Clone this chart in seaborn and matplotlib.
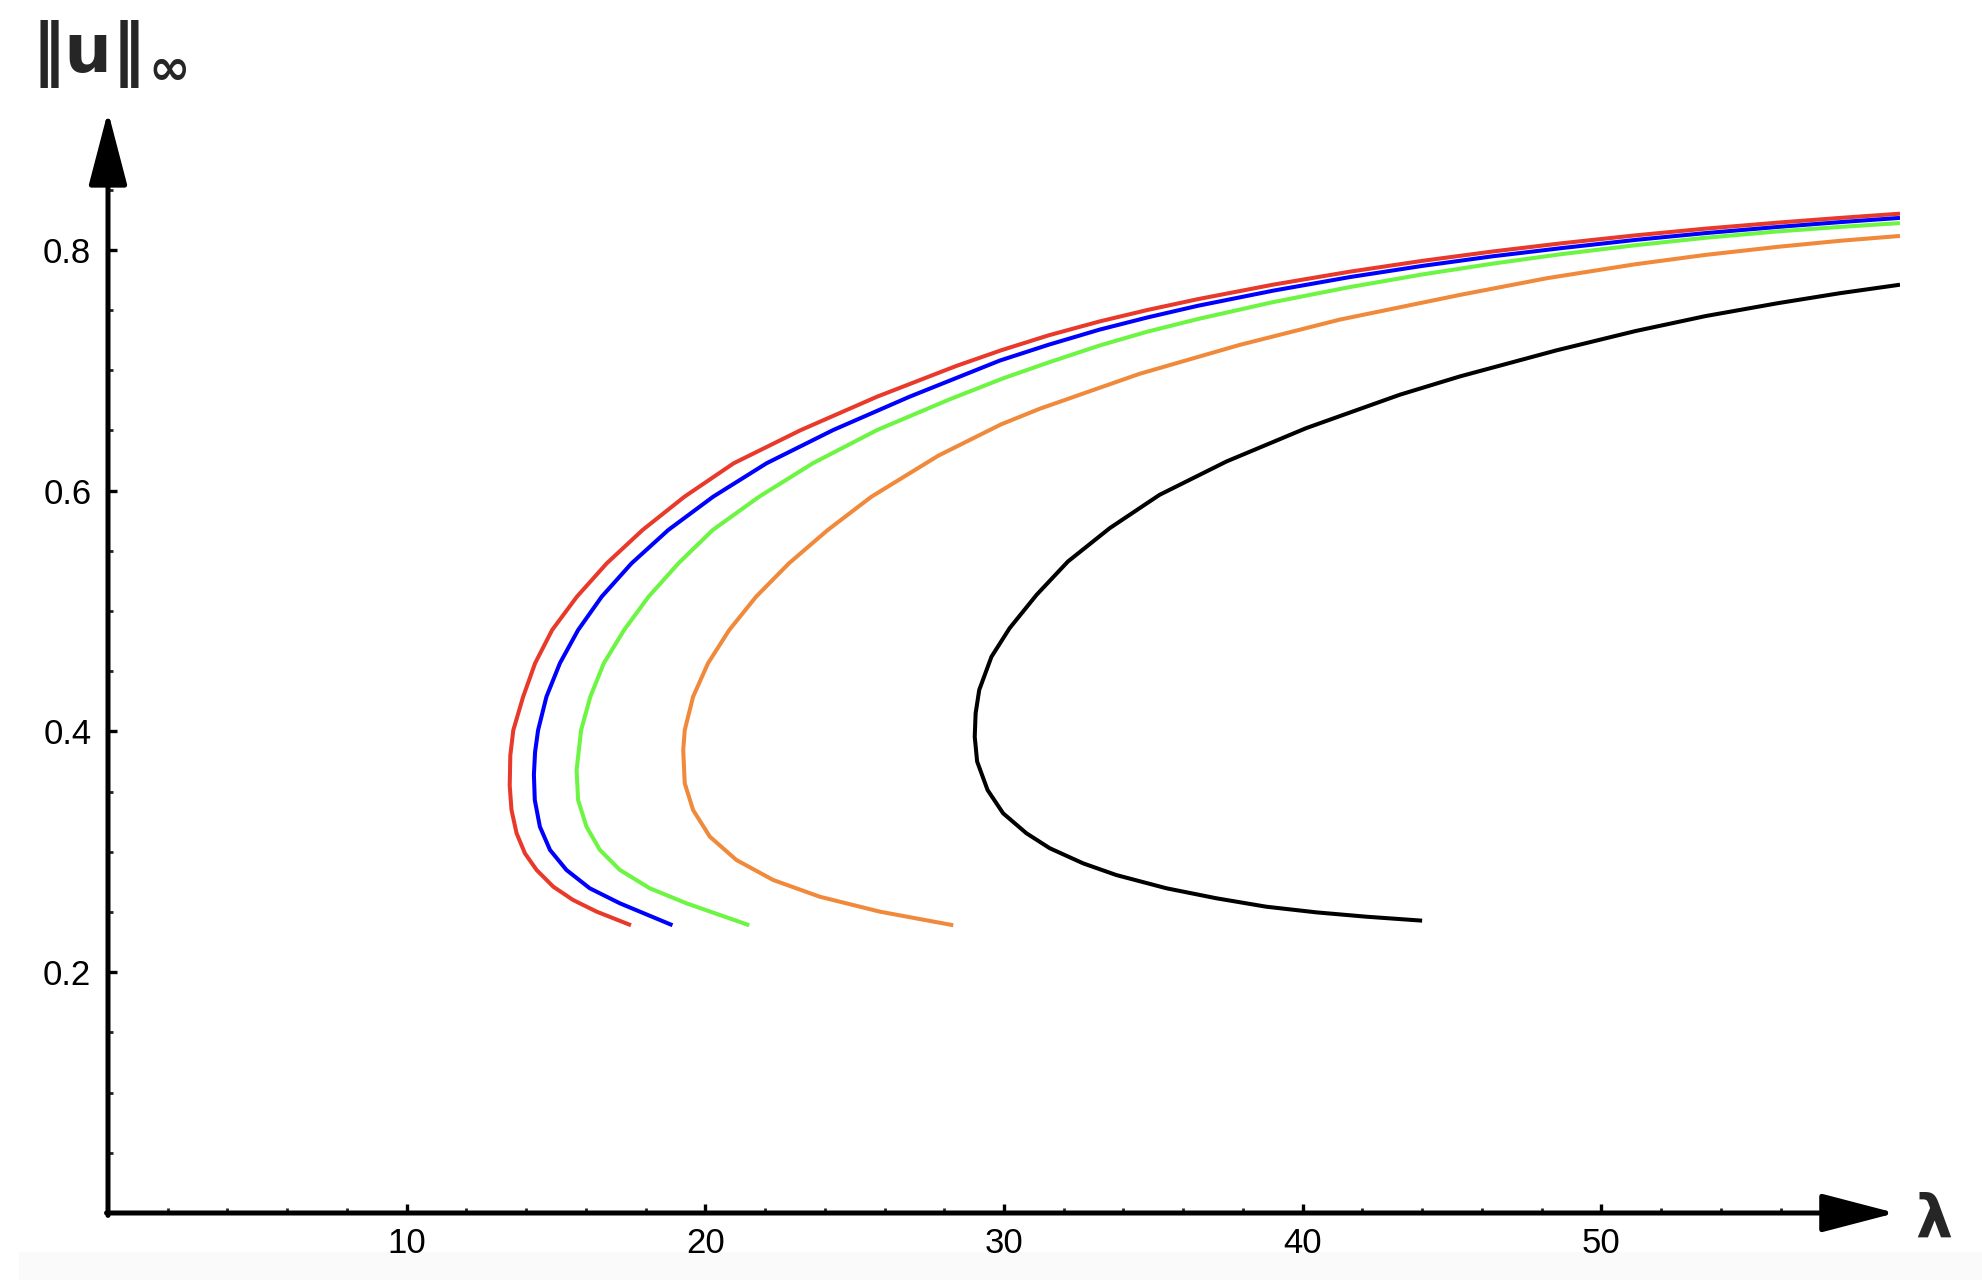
import numpy as np
import pandas as pd
import seaborn as sns
import matplotlib
matplotlib.use('Agg')
from matplotlib import pyplot as plt
from matplotlib.patches import Rectangle
from matplotlib.ticker import FixedLocator

# Branch data: (lambda, ||u||_inf), ordered along each curve
red_lam = [17.51, 16.36, 15.57, 14.91, 14.35, 13.96, 13.68, 13.51, 13.45, 13.47, 13.57, 13.90, 14.30,
           14.87, 15.70, 16.70, 17.90, 19.30, 20.95, 23.20, 25.75, 28.40, 29.90, 31.50, 33.20, 34.80,
           36.49, 39.00, 41.57, 44.00, 46.36, 48.70, 51.14, 53.50, 55.92, 58.00, 60.0]
red_u = [0.239, 0.2503, 0.260, 0.271, 0.2849, 0.2987, 0.3154, 0.3347, 0.355, 0.380, 0.401, 0.4288, 0.4566,
         0.4842, 0.5119, 0.5396, 0.5673, 0.5949, 0.6227, 0.6503, 0.678, 0.7035, 0.7165, 0.729, 0.7405, 0.750,
         0.759, 0.771, 0.7818, 0.7908, 0.7986, 0.8055, 0.812, 0.8176, 0.8226, 0.8265, 0.830]

blue_lam = [18.90, 17.14, 16.13, 15.35, 14.80, 14.46, 14.29, 14.26, 14.30, 14.40, 14.68, 15.13, 15.74,
            16.53, 17.53, 18.76, 20.26, 22.05, 24.28, 26.84, 29.86, 31.50, 33.20, 34.80, 36.49, 39.00,
            41.57, 44.00, 46.36, 48.70, 51.14, 53.50, 55.92, 58.00, 60.0]
blue_u = [0.239, 0.2572, 0.2697, 0.2849, 0.3015, 0.3209, 0.343, 0.364, 0.383, 0.401, 0.4288, 0.4566, 0.4842,
          0.5119, 0.5396, 0.5673, 0.5949, 0.6227, 0.6503, 0.678, 0.708, 0.7212, 0.7337, 0.7438, 0.7535, 0.766,
          0.7773, 0.7866, 0.7946, 0.8015, 0.8082, 0.8139, 0.819, 0.823, 0.8265]

green_lam = [21.47, 19.37, 18.14, 17.14, 16.47, 16.02, 15.74, 15.69, 15.84, 16.15, 16.60, 17.28, 18.10,
             19.10, 20.25, 21.80, 23.60, 25.75, 28.20, 30.00, 31.50, 33.20, 34.80, 36.49, 39.00, 41.57,
             44.00, 46.36, 48.70, 51.14, 53.50, 55.92, 58.00, 60.0]
green_u = [0.239, 0.2572, 0.2697, 0.2849, 0.3015, 0.3209, 0.343, 0.368, 0.401, 0.4288, 0.4566, 0.4842, 0.5119,
           0.5396, 0.5673, 0.5949, 0.6227, 0.6503, 0.676, 0.6935, 0.7065, 0.7205, 0.732, 0.7425, 0.7565, 0.769,
           0.7795, 0.7885, 0.7965, 0.8038, 0.810, 0.8153, 0.819, 0.8222]

orange_lam = [28.30, 25.84, 23.83, 22.27, 21.04, 20.15, 19.59, 19.31, 19.26, 19.31, 19.59, 20.09, 20.80,
              21.70, 22.80, 24.10, 25.56, 27.80, 29.90, 31.20, 34.54, 37.89, 41.24, 45.26, 48.20, 51.14,
              53.50, 55.92, 58.00, 60.0]
orange_u = [0.239, 0.2503, 0.2627, 0.2766, 0.2932, 0.3126, 0.3347, 0.3569, 0.3846, 0.401, 0.4288, 0.4566,
            0.4842, 0.5119, 0.5396, 0.5673, 0.5949, 0.629, 0.655, 0.668, 0.697, 0.721, 0.742, 0.7625, 0.7765,
            0.788, 0.7958, 0.8025, 0.8075, 0.8115]

black_lam = [44.0, 42.13, 40.46, 38.78, 37.11, 35.44, 33.76, 32.65, 31.53, 30.75, 29.97, 29.45, 29.10, 29.02,
             29.05, 29.17, 29.58, 30.19, 31.09, 32.14, 33.54, 35.21, 37.45, 40.12, 43.25, 45.26, 48.50,
             51.14, 53.50, 55.92, 58.00, 60.0]
black_u = [0.2428, 0.2461, 0.2497, 0.2544, 0.2614, 0.2697, 0.2807, 0.2904, 0.303, 0.3154, 0.332, 0.3513, 0.375,
           0.3956, 0.415, 0.4344, 0.462, 0.4858, 0.5134, 0.5411, 0.5688, 0.5965, 0.6242, 0.6519, 0.6796,
           0.6948, 0.7165, 0.7325, 0.7450, 0.7557, 0.764, 0.771]

x_major = [10, 20, 30, 40, 50]
x_minor = [2, 4, 6, 8, 12, 14, 16, 18, 22, 24, 26, 28, 32, 34, 36, 38, 42, 44, 46, 48, 52, 54, 56, 58]
y_major = [0.2, 0.4, 0.6, 0.8]
y_minor = [0.05, 0.1, 0.15, 0.25, 0.3, 0.35, 0.45, 0.5, 0.55, 0.65, 0.7, 0.75, 0.85]

colors = {'red': '#E8392B', 'blue': '#0000FF', 'green': '#6CF542', 'orange': '#F0893A', 'black': '#000000'}

# Long dataframe for seaborn
curves = []
for name, lam, u in [('red', red_lam, red_u), ('blue', blue_lam, blue_u), ('green', green_lam, green_u),
                     ('orange', orange_lam, orange_u), ('black', black_lam, black_u)]:
    curves.append(pd.DataFrame({'lam': lam, 'u': u, 'curve': name}))
df = pd.concat(curves, ignore_index=True)

sns.set_style('white')
plt.rcParams['font.family'] = ['Liberation Sans', 'DejaVu Sans']

fig = plt.figure(figsize=(19.83, 12.88), dpi=100)
ax = fig.add_axes([108 / 1983, 1 - 1213 / 1288, (1900 - 108) / 1983, 0.92 * 1204 / 1288])

sns.lineplot(data=df, x='lam', y='u', hue='curve', palette=colors, estimator=None, sort=False,
             units='curve', lw=2.9, legend=False, ax=ax)
for line in ax.lines:
    line.set_solid_joinstyle('round')
    line.set_solid_capstyle('butt')

ax.set_xlim(0, 60)
ax.set_ylim(0, 0.92)
ax.set_xlabel('')
ax.set_ylabel('')
for s in ax.spines.values():
    s.set_visible(False)

# Ticks pointing inward, Mathematica style
ax.xaxis.set_major_locator(FixedLocator(x_major))
ax.xaxis.set_minor_locator(FixedLocator(x_minor))
ax.yaxis.set_major_locator(FixedLocator(y_major))
ax.yaxis.set_minor_locator(FixedLocator(y_minor))
ax.set_xticklabels([str(v) for v in x_major])
ax.set_yticklabels([str(v) for v in y_major])
ax.tick_params(which='major', direction='in', length=6.3, width=2.4, labelsize=25, pad=10,
               bottom=True, left=True, colors='black')
ax.tick_params(which='minor', direction='in', length=3.4, width=2.0, bottom=True, left=True)
ax.tick_params(axis='y', which='major', pad=12)

# Axis arrows
arrow = dict(arrowstyle='-|>,head_length=4.6,head_width=1.2', lw=3.6, color='black',
             shrinkA=0, shrinkB=0, mutation_scale=10)
ax.annotate('', xy=(59.85, 0), xytext=(-0.05, 0), arrowprops=arrow, annotation_clip=False)
ax.annotate('', xy=(0, 0.915), xytext=(0, -0.002), arrowprops=arrow, annotation_clip=False)

# Axis labels
fig.text(32 / 1983, 1 - 72 / 1288, '‖u‖', fontsize=48, fontweight='bold', family='DejaVu Sans',
         ha='left', va='baseline')
fig.text(148 / 1983, 1 - 84 / 1288, '∞', fontsize=36, fontweight='bold', family='DejaVu Sans',
         ha='left', va='baseline')
fig.text(1915 / 1983, 1 - 1237 / 1288, 'λ', fontsize=42, fontweight='bold', family='DejaVu Sans',
         ha='left', va='baseline')

# Faint grey strip at the bottom of the screenshot
fig.patches.append(Rectangle((19 / 1983, 1 - 1280 / 1288), 1, 28 / 1288, transform=fig.transFigure,
                             facecolor='#fafafa', edgecolor='none', zorder=-1))

fig.savefig('out.png', dpi=100)
